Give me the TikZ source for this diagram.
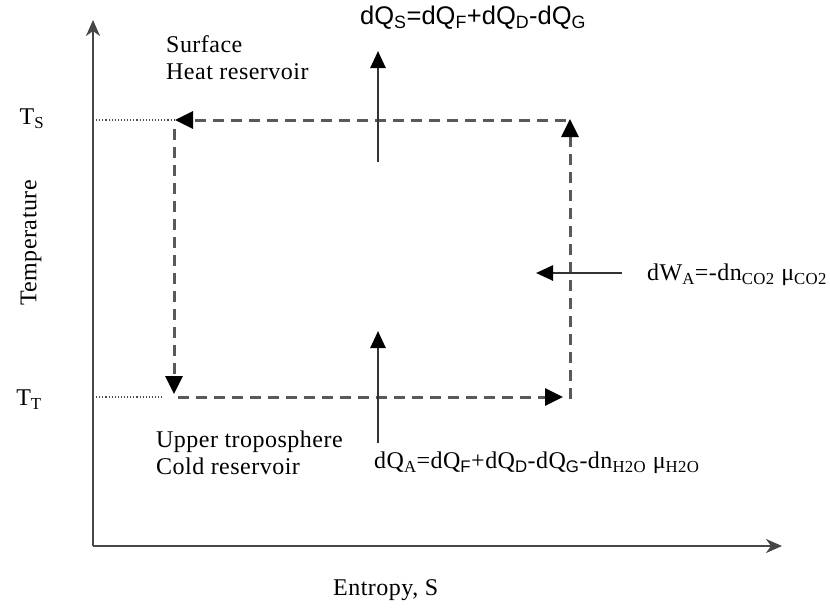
\documentclass[tikz,border=0pt]{standalone}
\usepackage{fontspec}
\setmainfont{Liberation Serif}[LetterSpace=2]
\newfontfamily\sansf{Liberation Sans}
\usetikzlibrary{arrows.meta}
\tikzset{
  axis/.style={line width=2.4pt, draw=black!72, -{Stealth[length=16pt,width=14pt,inset=5pt]}},
  cycle/.style={line width=3pt, draw=black!65, dash pattern=on 11pt off 7pt, -{Triangle[length=18pt,width=17pt,color=black,fill=black]}},
  guide/.style={line width=1.1pt, draw=black!70, dotted},
  flux/.style={line width=2.6pt, draw=black!80, -{Triangle[length=17pt,width=15pt,color=black,fill=black]}},
  lbl/.style={inner sep=0pt, font=\fontsize{24}{27}\selectfont},
}
\begin{document}
\begin{tikzpicture}[x=1pt,y=-1pt]
\useasboundingbox (0,0) rectangle (830,608);
% axes
\coordinate (O) at (93,546);
\coordinate (Ytop) at (93,20);
\coordinate (Xend) at (782,546);
\draw[axis] (O) -- (Ytop);
\draw[axis] (O) -- (Xend);
% cycle corners
\coordinate (TL) at (175,120);
\coordinate (TLs) at (174,129);
\coordinate (BLa) at (174,394);
\coordinate (BLs) at (178,397);
\coordinate (BRa) at (563,397);
\coordinate (BRs) at (570,399);
\coordinate (TRa) at (570,119);
\coordinate (TRs) at (566,120);
\draw[cycle] (TRs) -- (TL);
\draw[cycle] (TLs) -- (BLa);
\draw[cycle] (BLs) -- (BRa);
\draw[cycle] (BRs) -- (TRa);
% guide lines
\coordinate (YS) at (93,120);
\coordinate (YT) at (93,397);
\coordinate (YTe) at (163,397);
\draw[guide] (YS) -- (TL);
\draw[guide] (YT) -- (YTe);
% labels
\node[lbl] (TS) at (32,119) {T\textsubscript{S}};
\node[lbl] (TT) at (29,400) {T\textsubscript{T}};
\node[lbl, rotate=90] (temp) at (31,243) {Temperature};
\node[lbl, anchor=west] (ent) at (333,590) {Entropy, S};
\node[lbl, anchor=west, align=left] (surf) at (166,58) {Surface\\Heat reservoir};
\node[lbl, anchor=west, align=left] (cold) at (156,453) {Upper troposphere\\Cold reservoir};
% fluxes
\coordinate (s1) at (378,162);
\coordinate (s2) at (378,51);
\draw[flux] (s1) -- (s2);
\coordinate (a1) at (378,443);
\coordinate (a2) at (378,331);
\draw[flux] (a1) -- (a2);
\coordinate (w1) at (622,273);
\coordinate (w2) at (536,273);
\draw[flux] (w1) -- (w2);
\node[inner sep=0pt, anchor=west, font=\sansf\fontsize{25.5}{28}\selectfont] (dQS) at (360,18)
  {dQ\textsubscript{S}=dQ\textsubscript{F}+dQ\textsubscript{D}-dQ\textsubscript{G}};
\node[lbl, anchor=west] (dQA) at (374,463)
  {dQ\textsubscript{A}=dQ\textsubscript{\sansf F}+dQ\textsubscript{\sansf D}-dQ\textsubscript{\sansf G}-dn\textsubscript{H2O} μ\textsubscript{H2O}};
\node[lbl, anchor=west] (dWA) at (647,275)
  {dW\textsubscript{A}=-dn\textsubscript{CO2} μ\textsubscript{CO2}};
\end{tikzpicture}
\end{document}
